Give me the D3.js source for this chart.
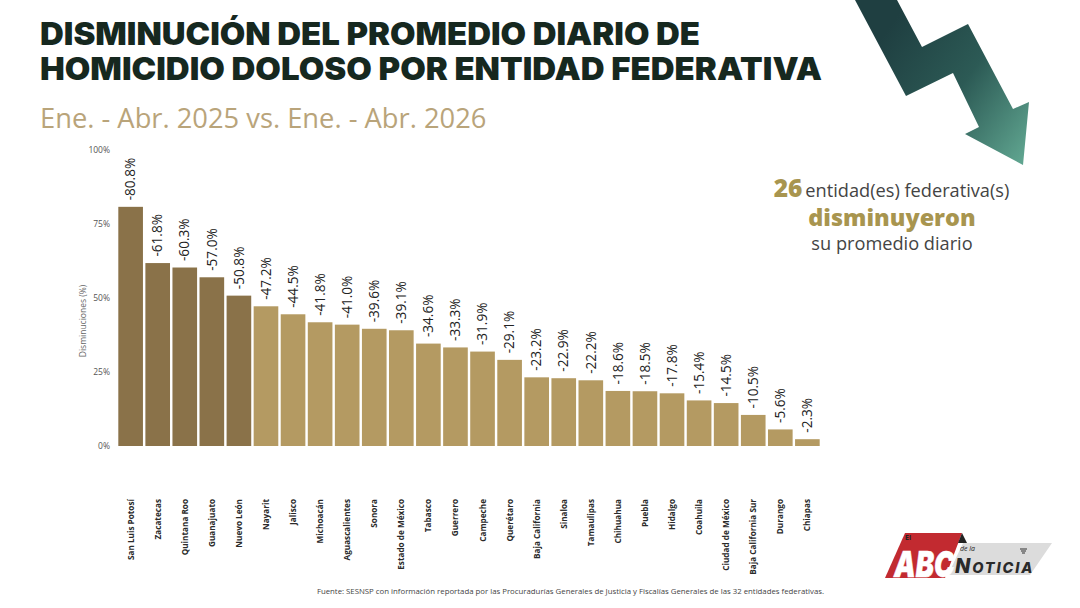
<!DOCTYPE html>
<html lang="es">
<head>
<meta charset="utf-8">
<title>Disminución del promedio diario de homicidio doloso</title>
<script src="https://cdn.jsdelivr.net/npm/d3@7/dist/d3.min.js"></script>
<style>
html,body{margin:0;padding:0;background:#fff;overflow:hidden}
svg{display:block}
text{font-family:"Open Sans",sans-serif}
text.heavy{font-family:Inter,sans-serif}
</style>
</head>
<body>
<svg id="chart" width="1080" height="608"></svg>
<script>
// Entidades federativas y su disminución porcentual
const states = ["San Luis Potosí","Zacatecas","Quintana Roo","Guanajuato","Nuevo León","Nayarit","Jalisco","Michoacán","Aguascalientes","Sonora","Estado de México","Tabasco","Guerrero","Campeche","Querétaro","Baja California","Sinaloa","Tamaulipas","Chihuahua","Puebla","Hidalgo","Coahuila","Ciudad de México","Baja California Sur","Durango","Chiapas"];
const declines = [80.8,61.8,60.3,57.0,50.8,47.2,44.5,41.8,41.0,39.6,39.1,34.6,33.3,31.9,29.1,23.2,22.9,22.2,18.6,18.5,17.8,15.4,14.5,10.5,5.6,2.3];
const yTicks = [0,25,50,75,100];
const topCount = 5;
const darkBar = "#8a7249", lightBar = "#b49a62";

const svg = d3.select("#chart");
const defs = svg.append("defs");

// Degradado de la flecha descendente
const grad = defs.append("linearGradient").attr("id","arrowFill")
  .attr("gradientUnits","userSpaceOnUse")
  .attr("x1",880).attr("y1",40).attr("x2",1030).attr("y2",150);
grad.append("stop").attr("offset","0").attr("stop-color","#1f3f41");
grad.append("stop").attr("offset","0.5").attr("stop-color","#2c5a55");
grad.append("stop").attr("offset","1").attr("stop-color","#5fa48f");

svg.append("path")
  .attr("d","M855,0 L897,0 L922,47 L968,24 L1013,109 L1029,102 L1023,165 L965,134 L979,127 L953,73 L906,96 Z")
  .attr("fill","url(#arrowFill)");

// Encabezado
const heading = svg.append("g").attr("fill","#16281f");
heading.append("text").attr("class","heavy").attr("x",40).attr("y",45)
  .attr("textLength",660).attr("lengthAdjust","spacingAndGlyphs")
  .style("font-weight",900).style("font-size","31px")
  .text("DISMINUCIÓN DEL PROMEDIO DIARIO DE");
heading.append("text").attr("class","heavy").attr("x",40).attr("y",80)
  .attr("textLength",782).attr("lengthAdjust","spacingAndGlyphs")
  .style("font-weight",900).style("font-size","31px")
  .text("HOMICIDIO DOLOSO POR ENTIDAD FEDERATIVA");
svg.append("text").attr("x",40).attr("y",128).attr("fill","#b9a47a")
  .style("font-size","27.3px").text("Ene. - Abr. 2025 vs. Ene. - Abr. 2026");

// Escalas
const x = d3.scaleBand().domain(states).range([117.5,820.5]).paddingInner(0.09).paddingOuter(0.03);
const y = d3.scaleLinear().domain([0,100]).range([446,150]);

// Eje vertical
const yAxis = svg.append("g").attr("transform","translate(110,0)")
  .call(d3.axisLeft(y).tickValues(yTicks).tickFormat(d=>d+"%").tickSize(0).tickPadding(0));
yAxis.select(".domain").remove();
yAxis.selectAll("text").attr("fill","#555").style("font-size","8.5px").style("font-family",'"Open Sans",sans-serif');
svg.append("text").attr("transform","translate(86,321) rotate(-90)").attr("text-anchor","middle")
  .attr("fill","#666").style("font-size","8.5px").text("Disminuciones (%)");

// Barras
svg.append("g").selectAll("rect").data(states).join("rect")
  .attr("x",d=>x(d)).attr("width",x.bandwidth())
  .attr("y",(d,i)=>y(declines[i]))
  .attr("height",(d,i)=>y(0)-y(declines[i]))
  .attr("fill",(d,i)=>i<topCount?darkBar:lightBar);

// Etiquetas de valor giradas
svg.append("g").selectAll("text").data(states).join("text")
  .attr("transform",(d,i)=>`translate(${x(d)+x.bandwidth()/2+4.7},${y(declines[i])-6.5}) rotate(-90)`)
  .attr("fill","#222").style("font-size","13.6px").style("font-weight",500)
  .text((d,i)=>`-${declines[i].toFixed(1)}%`);

// Nombres de las entidades
svg.append("g").selectAll("text").data(states).join("text")
  .attr("transform",d=>`translate(${x(d)+x.bandwidth()/2+3},499) rotate(-90)`)
  .attr("text-anchor","end").attr("fill","#2a2a2a")
  .style("font-size","8.2px").style("font-weight",700).text(d=>d);

// Nota de fuente
svg.append("text").attr("x",824).attr("y",594).attr("text-anchor","end").attr("fill","#444")
  .style("font-size","7.8px")
  .text("Fuente: SESNSP con información reportada por las Procuradurías Generales de Justicia y Fiscalías Generales de las 32 entidades federativas.");

// Resumen lateral
const note = svg.append("g").attr("text-anchor","middle");
const first = note.append("text").attr("x",891.5).attr("y",197);
first.append("tspan").attr("fill","#a8954f").style("font-size","24.5px").style("font-weight",800).text("26");
first.append("tspan").attr("dx",3).attr("fill","#444").style("font-size","18.2px").text("entidad(es) federativa(s)");
note.append("text").attr("x",892).attr("y",226).attr("fill","#a8954f")
  .style("font-size","23.4px").style("font-weight",800).text("disminuyeron");
note.append("text").attr("x",892).attr("y",250).attr("fill","#444")
  .style("font-size","18.2px").text("su promedio diario");

// Logotipo
const logo = svg.append("g");
logo.append("path").attr("d","M963,543 L1052,543 L1030,575 L948,575 Z").attr("fill","#dcdcdc");
logo.append("path").attr("d","M905,533 L962,533 L945,578 L885,578 Z").attr("fill","#c22a30");
logo.append("path").attr("d","M962,533 L967,543 L958,543 Z").attr("fill","#222");
logo.append("text").attr("class","heavy").attr("transform","translate(894,577) scale(0.76,1)").attr("fill","#fff")
  .attr("stroke","#fff").attr("stroke-width",0.5)
  .style("font-style","italic").style("font-weight",900).style("font-size","36px").text("ABC");
logo.append("text").attr("x",905).attr("y",540).attr("fill","#222").style("font-size","7px").style("font-weight",700).text("El");
logo.append("text").attr("x",960).attr("y",551).attr("fill","#222").style("font-size","7px").style("font-style","italic").text("de la");
const brand = logo.append("text").attr("class","heavy").attr("x",955).attr("y",573).attr("fill","#2a2a2a")
  .style("font-style","italic").style("font-weight",800).style("letter-spacing","1.9px");
brand.append("tspan").style("font-size","20px").text("N");
brand.append("tspan").style("font-size","14.5px").text("OTICIA");
// Señal sobre la última letra
[[1020,549,1027,549],[1021,551,1026,551],[1022,553,1025,553]].forEach(s=>{
  logo.append("line").attr("x1",s[0]).attr("y1",s[1]).attr("x2",s[2]).attr("y2",s[3])
    .attr("stroke","#333").attr("stroke-width",1);
});
</script>
</body>
</html>
